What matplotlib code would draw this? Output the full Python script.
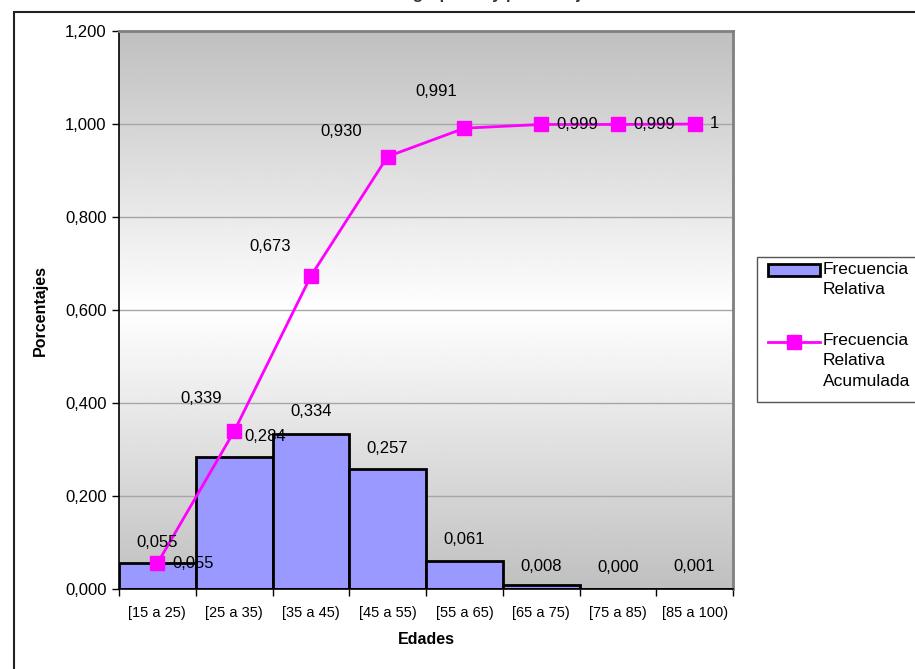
import numpy as np
import matplotlib
matplotlib.use("Agg")
import matplotlib.pyplot as plt
import matplotlib.patches as mpatches
from matplotlib.lines import Line2D
from matplotlib.ticker import FuncFormatter

plt.rcParams['font.family'] = ['Liberation Sans', 'DejaVu Sans']

# data
categorias = ["[15 a 25)", "[25 a 35)", "[35 a 45)", "[45 a 55)",
              "[55 a 65)", "[65 a 75)", "[75 a 85)", "[85 a 100)"]
frec_relativa = [0.055, 0.284, 0.334, 0.257, 0.061, 0.008, 0.000, 0.001]
frec_acumulada = [0.055, 0.339, 0.673, 0.930, 0.991, 0.999, 0.999, 1.0]
etiquetas_barras = ["0,055", "0,284", "0,334", "0,257", "0,061", "0,008", "0,000", "0,001"]
etiquetas_linea = ["0,055", "0,339", "0,673", "0,930", "0,991", "0,999", "0,999", "1"]
leyenda = ["Frecuencia\nRelativa", "Frecuencia\nRelativa\nAcumulada"]

# label offsets in pixels (manual placement like the original sheet)
off_barras = [(0, 21), (31, 20), (0, 22), (0, 21), (0, 21), (0, 19), (0, 22), (0, 22)]
off_linea = [(15, 0, 'left'), (-33, 33, 'center'), (-41, 30, 'center'), (-46, 25, 'center'),
             (-28, 37, 'center'), (15, 0, 'left'), (15, 0, 'left'), (15, 0, 'left')]

W, H = 915, 669
fig = plt.figure(figsize=(W / 100, H / 100), dpi=100)
ax = fig.add_axes([119 / W, 1 - 589 / H, (733 - 119) / W, (589 - 31) / H])

x = np.arange(len(categorias))

# gradient background (grey - white - grey)
yy = np.linspace(0, 1, 256)
shade = 1 - np.abs(yy - 0.5) / 0.5 * 0.25
ax.imshow(shade[:, None], extent=(-0.5, 7.5, 0, 1.2), origin='lower', aspect='auto',
          cmap='gray', vmin=0, vmax=1, zorder=0)

for v in np.arange(0.2, 1.21, 0.2):
    ax.axhline(v, color='#a6a6a6', lw=1, zorder=1)

ax.bar(x, frec_relativa, width=1.0, color='#9999ff', edgecolor='black', linewidth=2, zorder=2)
ax.plot(x, frec_acumulada, color='#ff00ff', lw=2, marker='s', markersize=10,
        markeredgecolor='#ff00ff', zorder=4)

for i in range(len(x)):
    dx, dy = off_barras[i]
    ax.annotate(etiquetas_barras[i], (x[i], frec_relativa[i]), xytext=(dx, dy),
                textcoords='offset pixels', ha='center', va='center', fontsize=12, zorder=5)
    dx, dy, ha = off_linea[i]
    ax.annotate(etiquetas_linea[i], (x[i], frec_acumulada[i]), xytext=(dx, dy),
                textcoords='offset pixels', ha=ha, va='center', fontsize=12, zorder=5)

ax.set_xlim(-0.5, 7.5)
ax.set_ylim(0, 1.2)
ax.set_yticks(np.arange(0, 1.21, 0.2))
ax.yaxis.set_major_formatter(FuncFormatter(lambda v, p: f"{v:.3f}".replace('.', ',')))
ax.set_xticks(np.arange(-0.5, 8, 1.0))
ax.set_xticklabels([])
ax.set_xticks(x, minor=True)
ax.set_xticklabels(categorias, minor=True, fontsize=10.5)
ax.tick_params(axis='x', which='minor', length=0, pad=12)
ax.tick_params(axis='x', which='major', length=5, width=1, direction='out')
ax.tick_params(axis='y', length=5, width=1, direction='out', labelsize=12, pad=4)

for s in ['top', 'right']:
    ax.spines[s].set_color('#808080')
    ax.spines[s].set_linewidth(2)
for s in ['left', 'bottom']:
    ax.spines[s].set_color('black')
    ax.spines[s].set_linewidth(1.2)

ax.set_xlabel("Edades", fontsize=11.5, fontweight='bold', labelpad=9)
ax.set_ylabel("Porcentajes", fontsize=11.5, fontweight='bold', labelpad=12)

# outer chart frame (cut by the image on the right and bottom)
fig.add_artist(mpatches.Rectangle((14 / W, -0.1), 1.2, 1.1 - 12 / H, transform=fig.transFigure,
                                  fill=False, edgecolor='#222222', lw=1.5, clip_on=False))

# title sits above the picture, only its descenders reach in
fig.text(470 / W, 1 + 1.5 / H, "Edades agrupadas y porcentajes", ha='center', va='baseline',
         fontsize=12, fontweight='bold', color='#333333')

# legend drawn by hand, Excel style: keys aligned with the first text line
def fx(px):
    return px / W

def fy(py):
    return 1 - py / H

fig.add_artist(mpatches.Rectangle((fx(757), fy(402)), fx(200), (402 - 257) / H,
                                  transform=fig.transFigure, facecolor='white',
                                  edgecolor='#555555', lw=1, clip_on=False))
fig.add_artist(mpatches.Rectangle((fx(768), fy(276)), fx(52), 12 / H,
                                  transform=fig.transFigure, facecolor='#9999ff',
                                  edgecolor='black', lw=2))
fig.add_artist(Line2D([fx(768), fx(820)], [fy(342), fy(342)], transform=fig.transFigure,
                      color='#ff00ff', lw=2))
fig.add_artist(Line2D([fx(794)], [fy(342)], transform=fig.transFigure, color='#ff00ff',
                      marker='s', markersize=10, lw=0))
fig.text(fx(823), fy(262), leyenda[0], ha='left', va='top', fontsize=12.5, linespacing=1.45)
fig.text(fx(823), fy(333), leyenda[1], ha='left', va='top', fontsize=12.5, linespacing=1.45)

fig.savefig("out.png", dpi=100)
